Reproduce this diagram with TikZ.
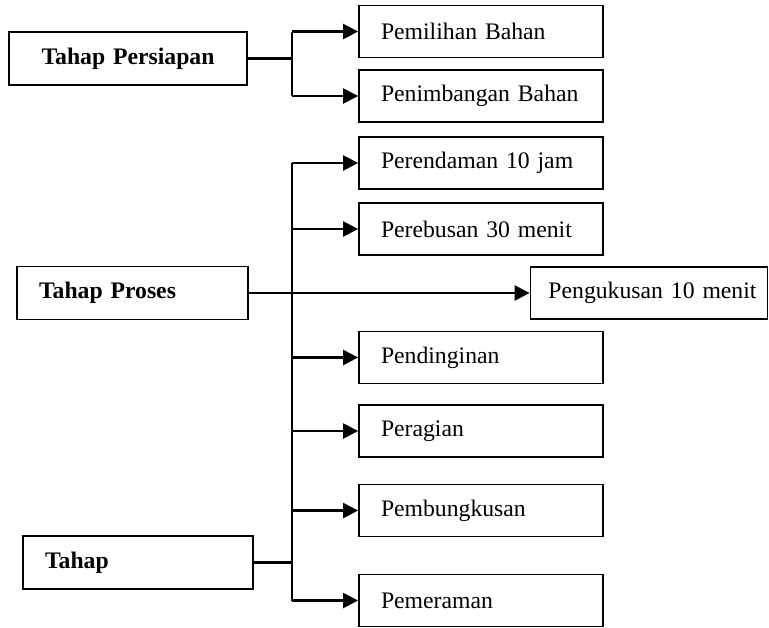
\documentclass[tikz,border=0pt]{standalone}
\usepackage{fontspec}
\setmainfont{Liberation Serif}
\usetikzlibrary{arrows.meta}

\tikzset{
  stagebox/.style={draw, line width=0.9pt, minimum height=26.5pt, inner xsep=11pt,
    align=left, font=\fontsize{11.85}{14}\selectfont\bfseries},
  stepbox/.style={draw, line width=0.9pt, minimum height=26pt, inner xsep=11pt,
    text width=100pt, align=left, font=\fontsize{11.85}{14}\selectfont},
  link/.style={line width=1.2pt},
  go/.style={line width=1.2pt, -{Triangle[length=7.5pt,width=7.5pt]}}
}

\begin{document}
\begin{tikzpicture}[x=0.5pt,y=-0.5pt]
  \useasboundingbox (0,0) rectangle (769,627);
  % stages
  \node[stagebox, text width=97pt, align=center] (persiapan) at (128,58.5) {Tahap Persiapan};
  \node[stagebox, text width=93.5pt] (proses) at (132.5,293) {Tahap Proses};
  \node[stagebox, text width=93pt] (tahap) at (138,562.5) {Tahap};
  % steps
  \node[stepbox] (pemilihan) at (481,31.5) {Pemilihan Bahan};
  \node[stepbox] (penimbangan) at (481,96) {Penimbangan Bahan};
  \node[stepbox] (perendaman) at (481,163) {Perendaman 10 jam};
  \node[stepbox] (perebusan) at (481,229) {Perebusan 30 menit};
  \node[stepbox, text width=107.5pt, inner xsep=5.5pt, align=right] (pengukusan) at (649,293) {Pengukusan 10 menit};
  \node[stepbox] (pendinginan) at (481,357.5) {Pendinginan};
  \node[stepbox] (peragian) at (481,431) {Peragian};
  \node[stepbox] (pembungkusan) at (481,510.5) {Pembungkusan};
  \node[stepbox] (pemeraman) at (481,600.5) {Pemeraman};
  \coordinate (forkA) at (292,58.5);
  \coordinate (spine) at (292,0);
  \begin{scope}[link]
    \draw (persiapan.east) -- (forkA);
    \draw (forkA |- pemilihan) -- (forkA |- penimbangan);
    \draw (spine |- perendaman) -- (spine |- pemeraman);
    \draw (tahap.east) -- (spine |- tahap.east);
  \end{scope}
  \begin{scope}[go]
    \draw (forkA |- pemilihan) -- (pemilihan);
    \draw (forkA |- penimbangan) -- (penimbangan);
    \draw (spine |- perendaman) -- (perendaman);
    \draw (spine |- perebusan) -- (perebusan);
    \draw (proses.east) -- (pengukusan);
    \draw (spine |- pendinginan) -- (pendinginan);
    \draw (spine |- peragian) -- (peragian);
    \draw (spine |- pembungkusan) -- (pembungkusan);
    \draw (spine |- pemeraman) -- (pemeraman);
  \end{scope}
\end{tikzpicture}
\end{document}
